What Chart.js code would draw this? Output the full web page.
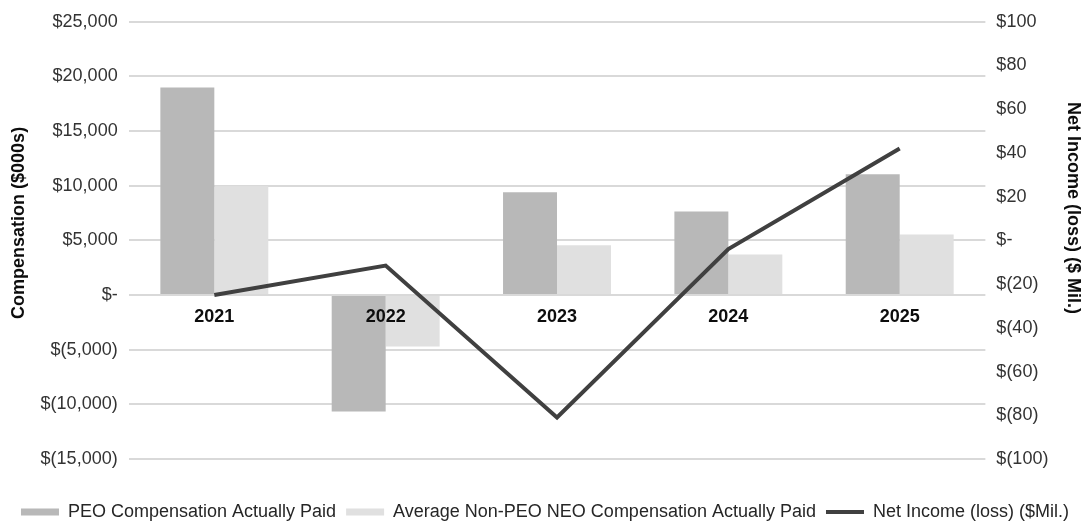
<!DOCTYPE html>
<html lang="en">
<head>
    <meta charset="UTF-8">
    <title>Compensation vs Net Income</title>
    <style>
        html, body { margin: 0; padding: 0; background: #fff; }
        #wrap { width: 1086px; height: 521px; }
    </style>
    <script src="https://cdn.jsdelivr.net/npm/chart.js"></script>
</head>
<body>
    <div id="wrap"><canvas id="compChart"></canvas></div>

    <script>
        // values
        const years = ['2021', '2022', '2023', '2024', '2025'];
        const peoPaid = [19000, -10650, 9400, 7650, 11050];      // $000s
        const neoPaid = [9950, -4700, 4550, 3700, 5550];          // $000s
        const netIncome = [-25, -11.5, -81, -4, 42];              // $ Mil.

        const fontFamily = '"Liberation Sans", Arial, sans-serif';

        function money(v) {
            if (v === 0) return '$-';
            const s = Math.abs(v).toLocaleString('en-US');
            return v < 0 ? '$(' + s + ')' : '$' + s;
        }

        // year labels sit just under the zero line, not at the bottom
        const yearLabels = {
            id: 'yearLabels',
            afterDatasetsDraw(chart) {
                const ctx = chart.ctx;
                const x = chart.scales.x;
                const y0 = chart.scales.y.getPixelForValue(0);
                ctx.save();
                ctx.font = 'bold 18px ' + fontFamily;
                ctx.fillStyle = '#0d0d0d';
                ctx.textAlign = 'center';
                ctx.textBaseline = 'middle';
                years.forEach((yr, i) => {
                    ctx.fillText(yr, x.getPixelForValue(i), y0 + 22);
                });
                ctx.restore();
            }
        };

        window.onload = function() {
            const ctx = document.getElementById('compChart').getContext('2d');

            new Chart(ctx, {
                data: {
                    labels: years,
                    datasets: [{
                        type: 'bar',
                        label: 'PEO Compensation Actually Paid',
                        data: peoPaid,
                        backgroundColor: '#b8b8b8',
                        yAxisID: 'y',
                        categoryPercentage: 0.63,
                        barPercentage: 1.0,
                        pointStyle: 'rect',
                        order: 1
                    }, {
                        type: 'bar',
                        label: 'Average Non-PEO NEO Compensation Actually Paid',
                        data: neoPaid,
                        backgroundColor: '#e0e0e0',
                        yAxisID: 'y',
                        categoryPercentage: 0.63,
                        barPercentage: 1.0,
                        pointStyle: 'rect',
                        order: 1
                    }, {
                        type: 'line',
                        label: 'Net Income (loss) ($Mil.)',
                        data: netIncome,
                        borderColor: '#404040',
                        backgroundColor: '#404040',
                        borderWidth: 4,
                        pointRadius: 0,
                        pointStyle: 'line',
                        tension: 0,
                        yAxisID: 'y1',
                        order: 0
                    }]
                },
                options: {
                    responsive: true,
                    maintainAspectRatio: false,
                    animation: false,
                    layout: {
                        padding: { top: 11, left: 6, right: 2, bottom: -10 }
                    },
                    plugins: {
                        tooltip: { enabled: false },
                        legend: {
                            position: 'bottom',
                            // empty title only used as a spacer above the items
                            title: {
                                display: true,
                                text: '',
                                font: { size: 10 },
                                padding: { top: 22, bottom: 0 }
                            },
                            labels: {
                                usePointStyle: true,
                                pointStyleWidth: 38,
                                boxHeight: 7,
                                padding: 10,
                                color: '#262626',
                                font: { family: fontFamily, size: 18 },
                                sort: (a, b) => a.datasetIndex - b.datasetIndex
                            }
                        }
                    },
                    scales: {
                        x: {
                            display: false
                        },
                        y: {
                            position: 'left',
                            min: -15000,
                            max: 25000,
                            ticks: {
                                stepSize: 5000,
                                padding: 11,
                                color: '#333',
                                font: { family: fontFamily, size: 18 },
                                callback: (v) => money(v)
                            },
                            grid: {
                                color: '#d9d9d9',
                                lineWidth: 2,
                                drawTicks: false
                            },
                            border: { display: false },
                            title: {
                                display: true,
                                text: '       Compensation ($000s)',
                                color: '#0d0d0d',
                                font: { family: fontFamily, size: 18, weight: 'bold' },
                                padding: { top: 2, bottom: 0 }
                            }
                        },
                        y1: {
                            position: 'right',
                            min: -100,
                            max: 100,
                            ticks: {
                                stepSize: 20,
                                padding: 11,
                                color: '#333',
                                font: { family: fontFamily, size: 18 },
                                callback: (v) => money(v)
                            },
                            grid: { display: false, drawTicks: false },
                            border: { display: false },
                            title: {
                                display: true,
                                text: 'Net Income (loss) ($ Mil.)             ',
                                color: '#0d0d0d',
                                font: { family: fontFamily, size: 18, weight: 'bold' },
                                padding: { top: 0, bottom: 3 }
                            }
                        }
                    }
                },
                plugins: [yearLabels]
            });
        };
    </script>
</body>
</html>
